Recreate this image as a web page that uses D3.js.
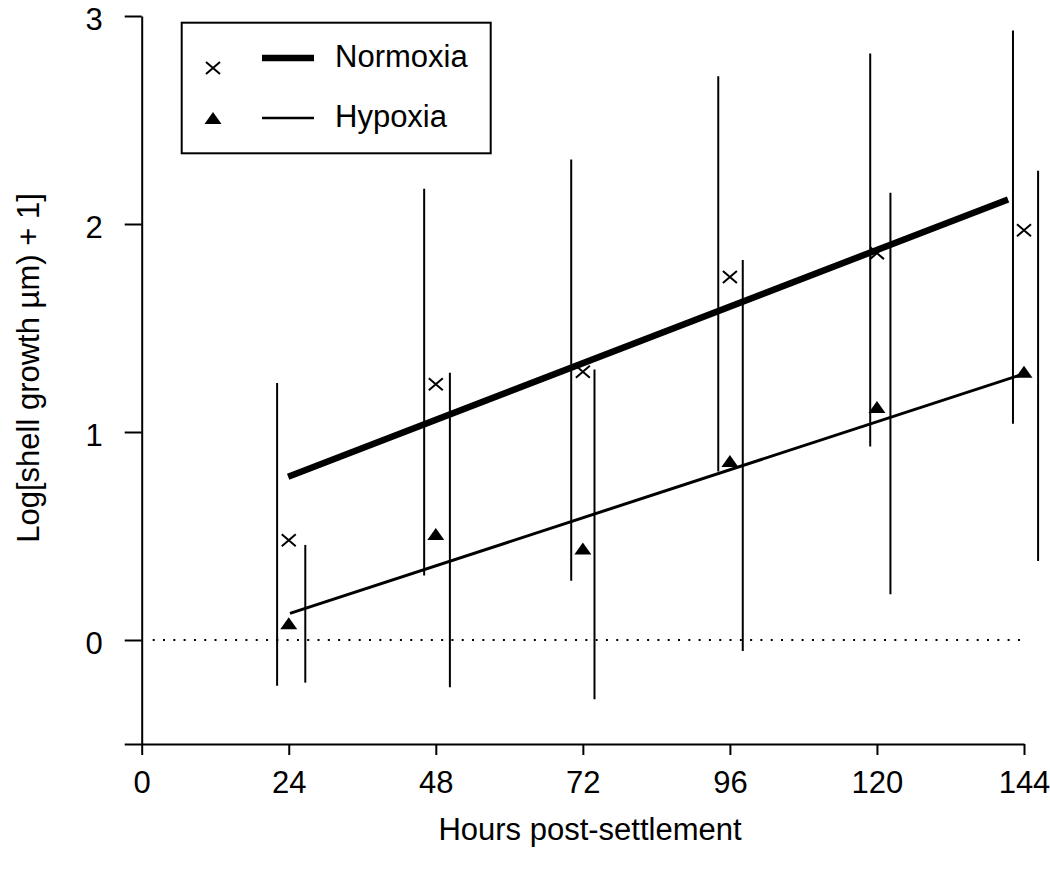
<html lang="en">
<head>
<meta charset="utf-8">
<title>Shell growth</title>
<style>
  body { margin: 0; background: #fff; }
  svg text { font-family: "Liberation Sans", Arial, Helvetica, sans-serif; fill: #000; }
</style>
<script type="text/javascript" src="https://d3js.org/d3.v7.min.js"></script>
</head>
<body>
<svg width="1050" height="876" id="chart"></svg>
<script type="text/javascript">

// sampling times (hours post-settlement)
var hours = [24, 48, 72, 96, 120, 144];

// means
var normoxiaMean = [0.48, 1.23, 1.29, 1.745, 1.86, 1.97];
var hypoxiaMean = [0.08, 0.51, 0.44, 0.86, 1.12, 1.29];

// error bars are drawn slightly left (normoxia) and right (hypoxia) of each time
var normoxiaBarHour = [22.1, 46.1, 70.1, 94.1, 118.9, 142.2];
var normoxiaLow = [-0.22, 0.31, 0.285, 0.81, 0.93, 1.04];
var normoxiaHigh = [1.235, 2.17, 2.31, 2.71, 2.82, 2.93];

var hypoxiaBarHour = [26.7, 50.3, 73.9, 98.1, 122.2, 146.3];
var hypoxiaLow = [-0.205, -0.227, -0.285, -0.053, 0.22, 0.38];
var hypoxiaHigh = [0.457, 1.285, 1.30, 1.827, 2.15, 2.256];

// fitted regression lines (start / end)
var normoxiaFit = [[23.9, 0.785], [141.4, 2.118]];
var hypoxiaFit = [[24.2, 0.128], [143.9, 1.279]];

// zero reference line
var zeroLine = [[1.8, 0], [143.5, 0]];

var xTicks = [0, 24, 48, 72, 96, 120, 144];
var yTicks = [-0.5, 0, 1, 2, 3];
var yTickLabels = ["", "0", "1", "2", "3"];

var svg = d3.select("#chart");

var x = d3.scaleLinear().domain([0, 144]).range([141.7, 1024]);
var y = d3.scaleLinear().domain([-0.5, 3]).range([744, 16]);

// axes
var xAxis = svg.append("g")
  .attr("transform", "translate(0," + y(-0.5) + ")")
  .call(d3.axisBottom(x).tickValues(xTicks).tickSize(11).tickSizeOuter(0).tickPadding(16));
xAxis.selectAll("text").style("font-size", "31px");

var yAxis = svg.append("g")
  .attr("transform", "translate(" + x(0) + ",0)")
  .call(d3.axisLeft(y).tickValues(yTicks).tickSize(17).tickSizeOuter(0).tickPadding(22)
    .tickFormat(function(d, i) { return yTickLabels[i]; }));
yAxis.selectAll("text").style("font-size", "31px").attr("dy", "0.45em");

svg.selectAll(".domain, .tick line").attr("stroke", "#000").attr("stroke-width", 2);

// axis titles
svg.append("text")
  .attr("x", 590).attr("y", 840)
  .attr("text-anchor", "middle")
  .style("font-size", "31px")
  .text("Hours post-settlement");

svg.append("text")
  .attr("transform", "translate(38.5,368) rotate(-90)")
  .attr("text-anchor", "middle")
  .style("font-size", "31px")
  .text("Log[shell growth \u00b5m) + 1]");

var line = d3.line().x(function(d) { return x(d[0]); }).y(function(d) { return y(d[1]); });

// dotted zero line
svg.append("path")
  .attr("d", line(zeroLine))
  .attr("fill", "none")
  .attr("stroke", "#000")
  .attr("stroke-width", 2)
  .attr("stroke-dasharray", "2,8.3");

// error bars
var nBars = hours.map(function(h, i) { return {x: normoxiaBarHour[i], lo: normoxiaLow[i], hi: normoxiaHigh[i]}; });
var hBars = hours.map(function(h, i) { return {x: hypoxiaBarHour[i], lo: hypoxiaLow[i], hi: hypoxiaHigh[i]}; });

svg.selectAll(".ebar")
  .data(nBars.concat(hBars))
  .enter()
  .append("line")
    .attr("class", "ebar")
    .attr("x1", function(d) { return x(d.x); })
    .attr("x2", function(d) { return x(d.x); })
    .attr("y1", function(d) { return y(d.lo); })
    .attr("y2", function(d) { return y(d.hi); })
    .attr("stroke", "#000")
    .attr("stroke-width", 2);

// regression lines
svg.append("path")
  .attr("d", line(normoxiaFit))
  .attr("fill", "none")
  .attr("stroke", "#000")
  .attr("stroke-width", 6.5);

svg.append("path")
  .attr("d", line(hypoxiaFit))
  .attr("fill", "none")
  .attr("stroke", "#000")
  .attr("stroke-width", 3);

// marker shapes
function crossPath(cx, cy) {
  return "M" + (cx - 7) + "," + (cy - 6) + "L" + (cx + 7) + "," + (cy + 6) +
         "M" + (cx - 7) + "," + (cy + 6) + "L" + (cx + 7) + "," + (cy - 6);
}
function trianglePath(cx, cy) {
  return "M" + (cx - 8.5) + "," + (cy + 6) + "L" + (cx + 8.5) + "," + (cy + 6) +
         "L" + cx + "," + (cy - 6) + "Z";
}

svg.selectAll(".nmark")
  .data(hours)
  .enter()
  .append("path")
    .attr("class", "nmark")
    .attr("d", function(d, i) { return crossPath(x(d), y(normoxiaMean[i])); })
    .attr("fill", "none")
    .attr("stroke", "#000")
    .attr("stroke-width", 2);

svg.selectAll(".hmark")
  .data(hours)
  .enter()
  .append("path")
    .attr("class", "hmark")
    .attr("d", function(d, i) { return trianglePath(x(d), y(hypoxiaMean[i])); })
    .attr("fill", "#000");

// legend
var legend = svg.append("g");
legend.append("rect")
  .attr("x", 181.7).attr("y", 22.7)
  .attr("width", 309).attr("height", 130.6)
  .attr("fill", "#fff")
  .attr("stroke", "#000")
  .attr("stroke-width", 2);

legend.append("path").attr("d", crossPath(213, 68))
  .attr("fill", "none").attr("stroke", "#000").attr("stroke-width", 2);
legend.append("line").attr("x1", 262).attr("x2", 314).attr("y1", 58).attr("y2", 58)
  .attr("stroke", "#000").attr("stroke-width", 6.5);
legend.append("text").attr("x", 335).attr("y", 67).style("font-size", "31px").text("Normoxia");

legend.append("path").attr("d", trianglePath(213, 118)).attr("fill", "#000");
legend.append("line").attr("x1", 262).attr("x2", 314).attr("y1", 118).attr("y2", 118)
  .attr("stroke", "#000").attr("stroke-width", 2.5);
legend.append("text").attr("x", 335).attr("y", 127).style("font-size", "31px").text("Hypoxia");

</script>
</body>
</html>
